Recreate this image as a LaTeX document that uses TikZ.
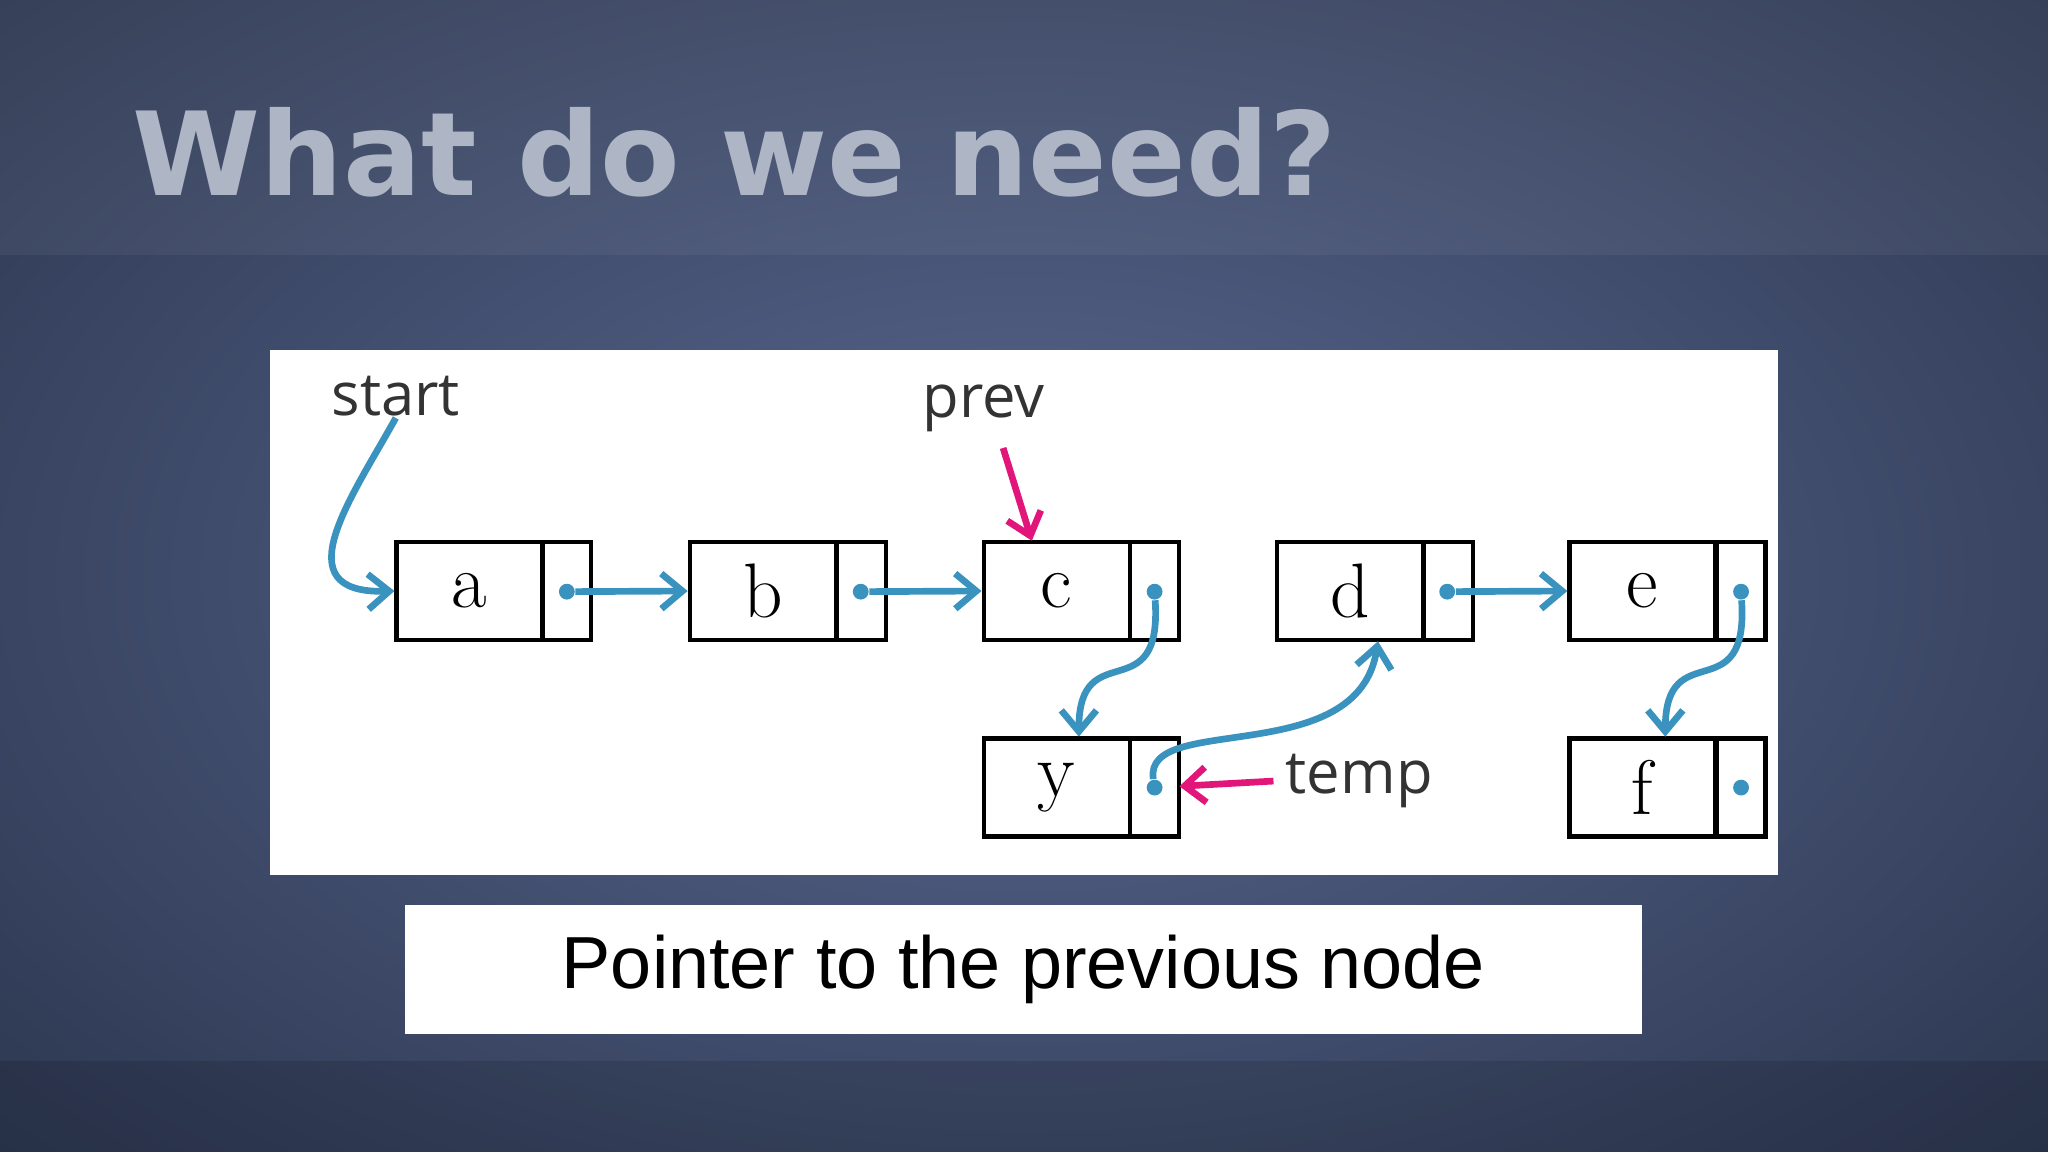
\documentclass[tikz,border=0pt]{standalone}
\usepackage{fontspec}
\setmainfont{Latin Modern Roman}
\newfontfamily\titlefont{DejaVu Sans}
\newfontfamily\capfont{Liberation Sans}
\newfontfamily\lblfont{Open Sans}
\usetikzlibrary{arrows.meta,shadings}
\definecolor{bgout}{HTML}{2C3750}
\definecolor{bgin}{HTML}{5A6890}
\definecolor{ttl}{HTML}{AEB6C6}
\definecolor{blu}{HTML}{3A92BE}
\definecolor{pnk}{HTML}{E2157A}
\begin{document}
\begin{tikzpicture}[x=0.0130612cm,y=-0.0130612cm,
  cell/.style={draw=black,line width=1.2pt,minimum height=0.98cm,inner sep=0},
  dat/.style={cell,minimum width=1.46cm,font=\fontsize{22}{22}\selectfont},
  ptr/.style={cell,minimum width=0.49cm},
  bl/.style={draw=blu,line width=1.9pt,-{Straight Barb[length=6pt,width=10pt,line width=1.9pt]}},
  pk/.style={draw=pnk,line width=1.9pt,-{Straight Barb[length=6pt,width=10pt,line width=1.9pt]}},
  dot/.style={circle,fill=blu,inner sep=0,minimum size=4.5pt},
  lbl/.style={font=\lblfont\fontsize{17}{17}\selectfont,text=black!80}]
\useasboundingbox (0,0) rectangle (1568,882);
\shade[inner color=bgin,outer color=bgout] (-300,-200) rectangle (1868,1082);
\fill[white,opacity=0.05] (0,0) rectangle (1568,195);
\fill[black,opacity=0.12] (0,812) rectangle (1568,882);
\node[anchor=base west,text=ttl,font=\titlefont\bfseries\fontsize{33}{33}\selectfont] (title) at (92,150) {What do we need?};
\fill[white] (207,268) rectangle (1361,670);
\node[fill=white,minimum width=947*0.0130612cm,minimum height=99*0.0130612cm,font=\capfont\fontsize{21}{21}\selectfont] (cap) at (783.5,742.5) {Pointer to the previous node};
% nodes
\node[dat] (a) at (359.5,452.5) {a}; \node[ptr] (ap) at (434,452.5) {};
\node[dat] (b) at (584,452.5) {b}; \node[ptr] (bp) at (659.5,452.5) {};
\node[dat] (c) at (809,452.5) {c}; \node[ptr] (cp) at (884,452.5) {};
\node[dat] (d) at (1033.5,452.5) {d}; \node[ptr] (dp) at (1109,452.5) {};
\node[dat] (e) at (1257.5,452.5) {e}; \node[ptr] (ep) at (1333,452.5) {};
\node[dat] (y) at (809,603) {y}; \node[ptr] (yp) at (884,603) {};
\node[dat] (f) at (1257.5,603) {f}; \node[ptr] (fp) at (1333,603) {};
\node[dot] (ad) at (434,453) {}; \node[dot] (bd) at (659,453) {};
\node[dot] (cd) at (884,453) {}; \node[dot] (dd) at (1108,453) {};
\node[dot] (ed) at (1333,453) {}; \node[dot] (yd) at (884,603) {};
\node[dot] (fd) at (1333,603) {};
% labels
\node[lbl] (start) at (303,303) {start};
\node[lbl] (prev) at (753,313) {prev};
\node[lbl,anchor=west] (temp) at (975,598) {temp};
\coordinate (s0) at (303,320);
% connectors
\draw[bl] (s0) .. controls (270,380) and (215,455) .. (a.west);
\draw[bl] (ad) -- (b.west);
\draw[bl] (bd) -- (c.west);
\draw[bl] (dd) -- (e.west);
\draw[bl] (cd) .. controls (890,545) and (826,485) .. (826,564);
\draw[bl] (ed) .. controls (1339,545) and (1275,485) .. (1275,564);
\draw[bl] (yd) .. controls (875,545) and (1040,590) .. (1055,491);
\coordinate (pv) at (768,343);
\draw[pk] (pv) -- (790,414);
\draw[pk] (temp.west) -- (903,602);
\end{tikzpicture}
\end{document}
